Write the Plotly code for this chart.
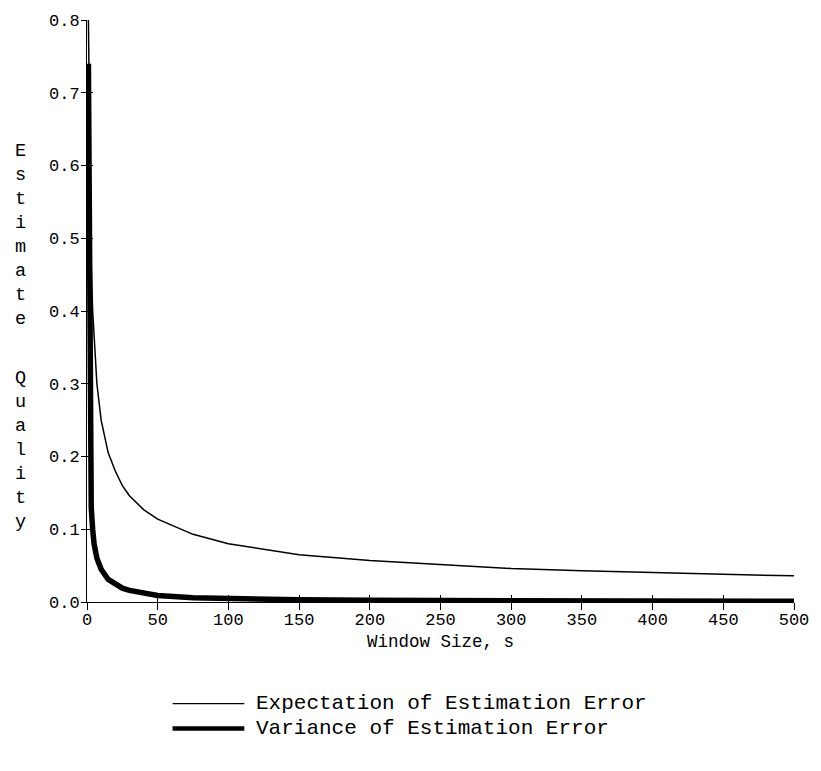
import plotly.graph_objects as go

# Window sizes at which the two error measures are evaluated
window_size = [1, 2, 3, 4, 5, 7, 10, 15, 20, 25, 30, 40, 50, 75, 100, 150,
               200, 250, 300, 350, 400, 450, 500]

# Expectation of the estimation error
expectation = [0.80, 0.57, 0.46, 0.40, 0.36, 0.30, 0.25, 0.205, 0.18, 0.16,
               0.146, 0.127, 0.114, 0.093, 0.080, 0.065, 0.057, 0.051, 0.046,
               0.043, 0.040, 0.038, 0.036]

# Variance of the estimation error
variance = [0.74, 0.20, 0.13, 0.10, 0.08, 0.06, 0.045, 0.031, 0.024, 0.019,
            0.016, 0.012, 0.009, 0.006, 0.0045, 0.003, 0.0023, 0.0018, 0.0015,
            0.0013, 0.0011, 0.001, 0.0009]

x_ticks = [0, 50, 100, 150, 200, 250, 300, 350, 400, 450, 500]
y_ticks = [0.0, 0.1, 0.2, 0.3, 0.4, 0.5, 0.6, 0.7, 0.8]

legend_names = ["Expectation of Estimation Error", "Variance of Estimation Error"]

FONT = "Liberation Mono, Courier New, monospace"

fig = go.Figure()
fig.add_trace(go.Scatter(x=window_size, y=expectation, mode="lines",
                         line=dict(color="black", width=1.5),
                         name=legend_names[0], showlegend=False))
fig.add_trace(go.Scatter(x=window_size, y=variance, mode="lines",
                         line=dict(color="black", width=5.5),
                         name=legend_names[1], showlegend=False))
# invisible trace that anchors the mirrored tick axes
fig.add_trace(go.Scatter(x=window_size, y=expectation, mode="markers",
                         marker=dict(opacity=0), xaxis="x2", yaxis="y2",
                         showlegend=False, hoverinfo="skip"))

axis_common = dict(showgrid=False, zeroline=False, color="black",
                   tickfont=dict(family=FONT, size=17, color="black"))

fig.update_layout(
    width=821, height=771,
    margin=dict(l=87, r=24, t=18, b=169),
    paper_bgcolor="white", plot_bgcolor="white",
    font=dict(family=FONT, color="black"),
    xaxis=dict(range=[0, 500], tickvals=x_ticks, ticks="outside", ticklen=7,
               tickwidth=1, showline=True, linewidth=1, linecolor="black",
               ticklabelstandoff=-5, **axis_common),
    yaxis=dict(range=[0, 0.8], tickvals=y_ticks, tickformat=".1f",
               ticks="outside", ticklen=5, tickwidth=1, showline=True,
               linewidth=1, linecolor="black", ticklabelstandoff=-2,
               **axis_common),
    xaxis2=dict(range=[0, 500], tickvals=x_ticks, ticks="inside", ticklen=7,
                tickwidth=1, overlaying="x", anchor="y2", side="bottom",
                showticklabels=False, showline=False, showgrid=False,
                zeroline=False, tickcolor="black"),
    yaxis2=dict(range=[0, 0.8], tickvals=y_ticks, ticks="inside", ticklen=6,
                tickwidth=1, overlaying="y", anchor="x2", side="left",
                showticklabels=False, showline=False, showgrid=False,
                zeroline=False, tickcolor="black"),
)

# Axis titles
fig.add_annotation(text="Window Size, s", xref="paper", yref="paper",
                   x=0.5, y=-0.0685, xanchor="center", yanchor="middle",
                   showarrow=False, font=dict(family=FONT, size=17.5))
for word, yc in (("Estimate", 0.630), ("Quality", 0.261)):
    fig.add_annotation(text="<br>".join(word), xref="paper", yref="paper",
                       x=-0.094, y=yc, xanchor="center", yanchor="middle",
                       showarrow=False, font=dict(family=FONT, size=18.5))

# Legend drawn below the plot
legend_rows = [(-0.1747, 1.3), (-0.2175, 4.5)]
for name, (yl, w) in zip(legend_names, legend_rows):
    fig.add_shape(type="line", xref="paper", yref="paper",
                  x0=0.121, x1=0.2225, y0=yl, y1=yl,
                  line=dict(color="black", width=w))
    fig.add_annotation(text=name, xref="paper", yref="paper",
                       x=0.2366, y=yl, xanchor="left", yanchor="middle",
                       showarrow=False, font=dict(family=FONT, size=21))

fig.write_html("out.html")
